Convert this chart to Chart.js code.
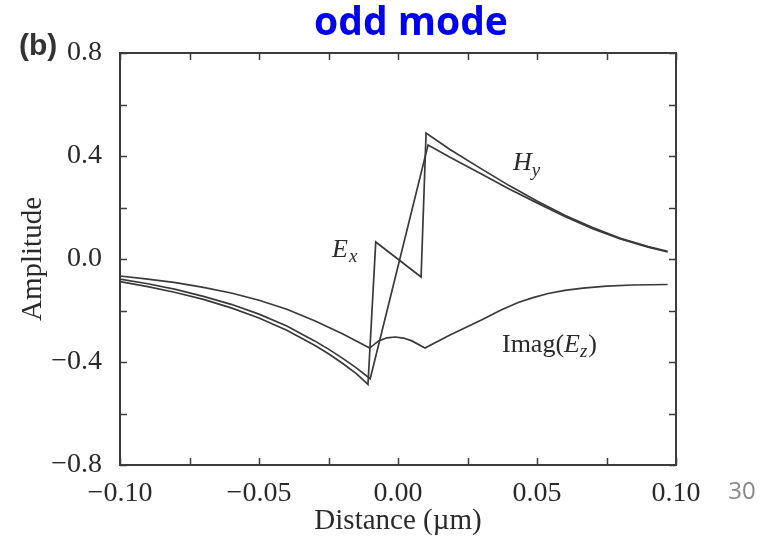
<!DOCTYPE html>
<html>
<head>
<meta charset="utf-8">
<script src="https://cdn.jsdelivr.net/npm/chart.js@4.4.0/dist/chart.umd.min.js"></script>
<style>
  html, body { margin: 0; padding: 0; background: #fff; }
</style>
</head>
<body>
<canvas id="chart" width="771" height="542"></canvas>
<script>
// Values (distance in µm, amplitude)
const exX = [-0.1, -0.09, -0.08, -0.07, -0.06, -0.05, -0.04, -0.03, -0.025, -0.02, -0.015, -0.0108, -0.008, 0.0083, 0.0101, 0.0187, 0.03, 0.04, 0.05, 0.06, 0.07, 0.08, 0.09, 0.097];
const exY = [-0.088, -0.107, -0.13, -0.157, -0.19, -0.229, -0.277, -0.335, -0.368, -0.405, -0.445, -0.487, 0.066, -0.07, 0.489, 0.425, 0.35, 0.285, 0.225, 0.17, 0.122, 0.08, 0.048, 0.03];

const hyX = [-0.1, -0.09, -0.08, -0.07, -0.06, -0.05, -0.04, -0.03, -0.025, -0.02, -0.015, -0.01, 0.0108, 0.0187, 0.03, 0.04, 0.05, 0.06, 0.07, 0.08, 0.09, 0.097];
const hyY = [-0.078, -0.096, -0.118, -0.145, -0.176, -0.214, -0.26, -0.318, -0.35, -0.385, -0.423, -0.465, 0.443, 0.395, 0.33, 0.272, 0.218, 0.165, 0.118, 0.078, 0.046, 0.027];

const ezX = [-0.1, -0.09, -0.08, -0.07, -0.06, -0.05, -0.04, -0.03, -0.025, -0.02, -0.015, -0.0102, -0.007, -0.004, -0.001, 0.002, 0.005, 0.0097, 0.0187, 0.03, 0.0367, 0.043, 0.0486, 0.054, 0.06, 0.0665, 0.075, 0.0845, 0.097];
const ezY = [-0.066, -0.078, -0.092, -0.11, -0.132, -0.16, -0.195, -0.24, -0.265, -0.29, -0.318, -0.346, -0.318, -0.306, -0.303, -0.307, -0.318, -0.346, -0.295, -0.237, -0.2, -0.17, -0.15, -0.134, -0.122, -0.113, -0.105, -0.101, -0.099];

const xTickLabels = [-0.10, -0.05, 0.00, 0.05, 0.10];
const yTickLabels = [-0.8, -0.4, 0.0, 0.4, 0.8];

const LINE = '#3a3a3a';
const SERIF = '"Liberation Serif", "DejaVu Serif", serif';

function toPoints(xs, ys) {
  return xs.map((x, i) => ({ x: x, y: ys[i] }));
}

function fmt(v, digits) {
  const s = Math.abs(v).toFixed(digits);
  return (v < -1e-9 ? '\u2212' : '') + s;
}

function isLabelled(v, list) {
  return list.some(t => Math.abs(t - v) < 1e-6);
}

// frame, inward ticks and the text around the plot
const decorations = {
  id: 'decorations',
  afterDraw(chart) {
    const { ctx, chartArea: a, scales: { x, y } } = chart;
    ctx.save();

    ctx.strokeStyle = '#3c3c3c';
    ctx.lineWidth = 1.5;
    ctx.beginPath();
    x.ticks.forEach(t => {
      const px = Math.round(x.getPixelForValue(t.value)) + 0.5;
      ctx.moveTo(px, a.bottom); ctx.lineTo(px, a.bottom - 7);
      ctx.moveTo(px, a.top); ctx.lineTo(px, a.top + 7);
    });
    y.ticks.forEach(t => {
      const py = Math.round(y.getPixelForValue(t.value)) + 0.5;
      ctx.moveTo(a.left, py); ctx.lineTo(a.left + 7, py);
      ctx.moveTo(a.right, py); ctx.lineTo(a.right - 7, py);
    });
    ctx.stroke();

    ctx.lineWidth = 2;
    ctx.strokeRect(a.left, a.top, a.right - a.left, a.bottom - a.top);

    // curve labels
    ctx.fillStyle = '#2a2a2a';
    ctx.textBaseline = 'alphabetic';
    ctx.textAlign = 'left';
    const it = 'italic 26px ' + SERIF;
    const itSub = 'italic 19px ' + SERIF;
    const rm = '26px ' + SERIF;

    function piece(text, font, px, py) {
      ctx.font = font;
      ctx.fillText(text, px, py);
      return px + ctx.measureText(text).width;
    }

    let px = x.getPixelForValue(-0.0237), py = y.getPixelForValue(0.008);
    px = piece('E', it, px, py);
    piece('x', itSub, px + 1, py + 5);

    px = x.getPixelForValue(0.0414); py = y.getPixelForValue(0.346);
    px = piece('H', it, px, py);
    piece('y', itSub, px, py + 6);

    px = x.getPixelForValue(0.0374); py = y.getPixelForValue(-0.361);
    px = piece('Imag(', rm, px, py);
    px = piece('E', it, px, py);
    px = piece('z', itSub, px, py + 5);
    piece(')', rm, px + 1, py);

    // panel tag, title, page number
    ctx.font = 'bold 30px "Liberation Sans", Arial, sans-serif';
    ctx.fillStyle = '#333';
    ctx.textBaseline = 'middle';
    ctx.fillText('(b)', 19, 47);

    ctx.font = 'bold 39px "Open Sans", sans-serif';
    ctx.fillStyle = '#0000f0';
    ctx.textAlign = 'center';
    ctx.fillText('odd mode', 411, 24);

    ctx.font = '24px "Open Sans", sans-serif';
    ctx.fillStyle = '#888';
    ctx.fillText('30', 742, 492);

    ctx.restore();
  }
};

const ctx = document.getElementById('chart').getContext('2d');

new Chart(ctx, {
  type: 'scatter',
  data: {
    datasets: [
      { label: 'Ex', data: toPoints(exX, exY) },
      { label: 'Hy', data: toPoints(hyX, hyY) },
      { label: 'Imag(Ez)', data: toPoints(ezX, ezY) }
    ].map(d => Object.assign(d, {
      showLine: true,
      borderColor: LINE,
      borderWidth: 1.7,
      pointRadius: 0,
      tension: 0,
      fill: false
    }))
  },
  options: {
    responsive: false,
    animation: false,
    layout: { padding: { top: 53, right: 95, bottom: 0, left: 0 } },
    plugins: {
      legend: { display: false },
      tooltip: { enabled: false }
    },
    scales: {
      x: {
        type: 'linear',
        min: -0.1,
        max: 0.1,
        grid: { display: false },
        border: { display: false },
        ticks: {
          stepSize: 0.025,
          padding: 4,
          color: '#2a2a2a',
          font: { family: SERIF, size: 28 },
          maxRotation: 0,
          autoSkip: false,
          callback: v => isLabelled(v, xTickLabels) ? fmt(v, 2) : ''
        },
        title: {
          display: true,
          text: 'Distance (\u00b5m)',
          color: '#2a2a2a',
          font: { family: SERIF, size: 29 },
          padding: { top: 0, bottom: 3 }
        },
        afterFit: s => { s.height = 77; }
      },
      y: {
        type: 'linear',
        min: -0.8,
        max: 0.8,
        grid: { display: false },
        border: { display: false },
        ticks: {
          stepSize: 0.2,
          padding: 10,
          color: '#2a2a2a',
          font: { family: SERIF, size: 28 },
          autoSkip: false,
          callback: v => isLabelled(v, yTickLabels) ? fmt(v, 1) : ''
        },
        title: {
          display: true,
          text: 'Amplitude',
          color: '#2a2a2a',
          font: { family: SERIF, size: 29 },
          padding: { top: 16, bottom: 0 }
        },
        afterFit: s => { s.width = 120; }
      }
    }
  },
  plugins: [decorations]
});
</script>
</body>
</html>
